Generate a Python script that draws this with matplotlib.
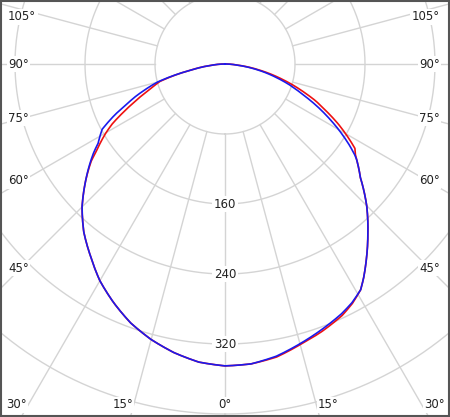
import numpy as np
import matplotlib
matplotlib.use("Agg")
import matplotlib.pyplot as plt
from matplotlib.patches import Rectangle

# gamma angles (deg), negative = left half of the diagram
angles = [-90, -85, -80, -75, -72, -70, -68, -65, -62, -60, -58, -56, -54, -50,
          -45, -40, -35, -30, -25, -20, -15, -10, -5, 0, 5, 10, 15, 20, 25, 28,
          31, 33, 36, 40, 42, 45, 50, 54, 55, 57, 60, 62, 65, 68, 70, 72, 75,
          80, 85, 90]

# luminous intensity (cd) for the two planes
blue_cd = [0, 14, 38, 80, 97, 109, 120, 140, 159, 165, 171, 181, 190, 208,
           231, 251, 268, 286, 301, 315, 326, 335, 342, 345, 344, 339, 331, 323, 315, 309,
           301, 291, 275, 254, 244, 229, 202, 186, 181, 169, 150, 137, 118, 99, 88, 78, 62,
           37, 13, 0]
red_cd = [0, 14, 39, 77, 88, 98, 108, 126, 146, 157, 167, 177, 189, 208,
          231, 251, 268, 286, 301, 315, 326, 335, 342, 345, 344, 340, 332, 325, 317, 310,
          301, 291, 275, 254, 244, 229, 202, 186, 182, 177, 159, 147, 128, 111, 98, 86, 68,
          40, 14, 0]

ring_values = [80, 160, 240, 320, 400, 480]
ring_labels = ["160", "240", "320"]
spoke_angles = list(range(-180, 181, 15))

W, H = 450, 417
cx, cy = 225, 64          # pole position in pixels
rmax = 480
rpx = 420                 # pixels for rmax

fig = plt.figure(figsize=(W / 100, H / 100), dpi=100)
fig.patch.set_facecolor("white")
ax = fig.add_axes([(cx - rpx) / W, (H - cy - rpx) / H, 2 * rpx / W, 2 * rpx / H],
                  projection="polar")
ax.set_theta_zero_location("S")
ax.set_ylim(0, rmax)
ax.set_xticks([])
ax.set_yticks([])
ax.grid(False)
ax.spines["polar"].set_visible(False)

grid_col = "#d4d4d4"
tt = np.linspace(0, 2 * np.pi, 721)
for r in ring_values:
    ax.plot(tt, np.full_like(tt, r), color=grid_col, lw=1.0, zorder=1)
for a in spoke_angles:
    th = np.deg2rad(a)
    ax.plot([th, th], [ring_values[0], rmax], color=grid_col, lw=1.0, zorder=1)

th = np.deg2rad(angles)
red_line, = ax.plot(th, red_cd, color="#ee1111", lw=1.2, zorder=3)
blue_line, = ax.plot(th, blue_cd, color="#1a1aee", lw=1.2, zorder=4)
# draw segments as arcs in polar space instead of straight chords
for ln in (red_line, blue_line):
    ln.get_path()._interpolation_steps = 10

box = dict(facecolor="white", edgecolor="none", pad=1.0)
txt = dict(fontsize=8.5, color="#222222", bbox=box, zorder=5)

def fx(x):
    return x / W

def fy(y):
    return 1 - y / H

# radial value labels on the 0 deg axis
for lab in ring_labels:
    r = float(lab)
    ax.text(0, r, lab, ha="center", va="center", **txt)

# angle labels on left / right edges
side = [("105°", 17), ("90°", 64), ("75°", 118), ("60°", 181), ("45°", 268)]
for lab, y in side:
    fig.text(fx(8), fy(y), lab, ha="left", va="center", **txt)
    fig.text(fx(440), fy(y), lab, ha="right", va="center", **txt)

# angle labels along the bottom edge
fig.text(fx(27), fy(405), "30°", ha="right", va="center", **txt)
fig.text(fx(133), fy(405), "15°", ha="right", va="center", **txt)
fig.text(fx(225), fy(405), "0°", ha="center", va="center", **txt)
fig.text(fx(318), fy(405), "15°", ha="left", va="center", **txt)
fig.text(fx(424), fy(405), "30°", ha="left", va="center", **txt)

fig.patches.append(Rectangle((0.002, 0.002), 0.996, 0.996, transform=fig.transFigure,
                             fill=False, edgecolor="#555555", lw=1.5, zorder=10))

fig.savefig("out.png", dpi=100)
